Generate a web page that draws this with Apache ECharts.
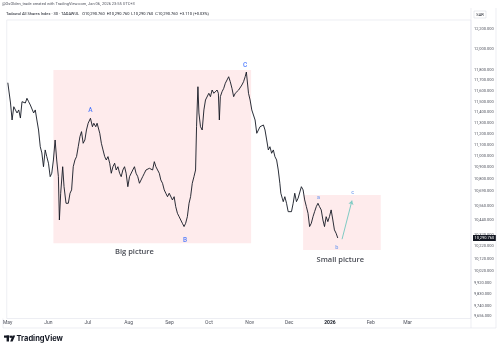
<!DOCTYPE html>
<html>
<head>
<meta charset="utf-8">
<script src="https://cdn.jsdelivr.net/npm/echarts@6/dist/echarts.min.js"></script>
<style>
html,body{margin:0;padding:0;background:#fff;}
#main{width:500px;height:349px;}
</style>
</head>
<body>
<div id="main"></div>
<script>
// Tadawul All Shares Index, 30 min (line close)
const dates = [
  '2025-05-01 02:00','2025-05-03 03:00','2025-05-04 08:00','2025-05-05 15:00','2025-05-06 21:00','2025-05-08 02:00','2025-05-09 09:00','2025-05-10 16:00','2025-05-11 21:00','2025-05-13 04:00',
  '2025-05-14 10:00','2025-05-15 15:00','2025-05-16 22:00','2025-05-18 05:00','2025-05-19 10:00','2025-05-20 17:00','2025-05-21 23:00','2025-05-23 04:00','2025-05-24 11:00','2025-05-25 18:00',
  '2025-05-26 23:00','2025-05-28 05:00','2025-05-29 12:00','2025-05-30 17:00','2025-06-01 00:00','2025-06-02 07:00','2025-06-03 12:00','2025-06-04 18:00','2025-06-06 01:00','2025-06-07 06:00',
  '2025-06-08 13:00','2025-06-09 07:00','2025-06-10 07:00','2025-06-11 19:00','2025-06-12 20:00','2025-06-14 08:00','2025-06-16 02:00','2025-06-17 09:00','2025-06-18 14:00','2025-06-19 20:00',
  '2025-06-21 03:00','2025-06-22 08:00','2025-06-23 15:00','2025-06-24 22:00','2025-06-26 03:00','2025-06-27 09:00','2025-06-28 16:00','2025-06-29 21:00','2025-07-01 04:00','2025-07-02 22:00',
  '2025-07-04 10:00','2025-07-05 11:00','2025-07-06 23:00','2025-07-07 23:00','2025-07-10 00:00','2025-07-11 05:00','2025-07-12 11:00','2025-07-13 18:00','2025-07-14 23:00','2025-07-16 06:00',
  '2025-07-17 13:00','2025-07-18 18:00','2025-07-20 00:00','2025-07-21 07:00','2025-07-22 12:00','2025-07-23 19:00','2025-07-25 02:00','2025-07-26 07:00','2025-07-27 13:00','2025-07-28 20:00',
  '2025-07-30 01:00','2025-07-31 08:00','2025-08-01 15:00','2025-08-04 02:00','2025-08-05 09:00','2025-08-06 14:00','2025-08-07 21:00','2025-08-09 04:00','2025-08-10 09:00','2025-08-11 15:00',
  '2025-08-12 22:00','2025-08-14 03:00','2025-08-16 17:00','2025-08-19 04:00','2025-08-20 11:00','2025-08-21 16:00','2025-08-22 23:00','2025-08-24 06:00','2025-08-25 10:00','2025-08-26 17:00',
  '2025-08-28 00:00','2025-08-29 05:00','2025-08-30 12:00','2025-08-31 19:00','2025-09-01 23:00','2025-09-03 06:00','2025-09-04 13:00','2025-09-05 18:00','2025-09-07 01:00','2025-09-08 08:00',
  '2025-09-09 13:00','2025-09-10 19:00','2025-09-12 02:00','2025-09-13 07:00','2025-09-14 14:00','2025-09-15 21:00','2025-09-17 01:00','2025-09-18 08:00','2025-09-19 15:00','2025-09-20 20:00',
  '2025-09-21 14:00','2025-09-22 03:00','2025-09-22 15:00','2025-09-23 09:00','2025-09-24 14:00','2025-09-25 21:00','2025-09-27 04:00','2025-09-28 09:00','2025-09-29 16:00','2025-09-30 22:00',
  '2025-10-02 03:00','2025-10-03 10:00','2025-10-04 17:00','2025-10-05 22:00','2025-10-07 05:00','2025-10-08 04:00','2025-10-08 22:00','2025-10-09 16:00','2025-10-10 23:00','2025-10-12 06:00',
  '2025-10-13 11:00','2025-10-14 18:00','2025-10-16 00:00','2025-10-17 05:00','2025-10-18 12:00','2025-10-19 19:00','2025-10-21 00:00','2025-10-22 07:00','2025-10-23 14:00','2025-10-24 18:00',
  '2025-10-26 01:00','2025-10-27 08:00','2025-10-28 13:00','2025-10-29 11:00','2025-10-31 02:00','2025-11-01 07:00','2025-11-02 14:00','2025-11-05 02:00','2025-11-06 09:00','2025-11-07 15:00',
  '2025-11-08 20:00','2025-11-10 03:00','2025-11-11 10:00','2025-11-12 15:00','2025-11-13 22:00','2025-11-15 04:00','2025-11-16 09:00','2025-11-17 16:00','2025-11-18 23:00','2025-11-20 04:00',
  '2025-11-21 11:00','2025-11-22 17:00','2025-11-23 22:00','2025-11-24 16:00','2025-11-25 18:00','2025-11-26 12:00','2025-11-27 17:00','2025-11-29 00:00','2025-11-30 06:00','2025-12-01 11:00',
  '2025-12-02 18:00','2025-12-04 01:00','2025-12-05 06:00','2025-12-06 13:00','2025-12-07 19:00','2025-12-09 00:00','2025-12-10 07:00','2025-12-11 14:00','2025-12-12 19:00','2025-12-14 02:00',
  '2025-12-15 08:00','2025-12-16 13:00','2025-12-17 20:00','2025-12-19 03:00','2025-12-20 08:00','2025-12-21 15:00','2025-12-22 21:00','2025-12-24 02:00','2025-12-25 09:00','2025-12-26 16:00',
  '2025-12-27 21:00','2025-12-29 03:00','2025-12-30 10:00','2025-12-31 15:00','2026-01-01 22:00','2026-01-02 16:00','2026-01-03 05:00','2026-01-04 10:00','2026-01-05 16:00','2026-01-06 23:00'
];
const prices = [
  11678,11487,11329,11452,11422,11394,11422,11347,11499,11515,
  11487,11531,11499,11468,11452,11394,11422,11329,11237,11085,
  11029,10906,11056,10996,10937,10818,10848,10966,11146,10966,
  10818,10443,10673,10906,10730,10586,10586,10673,10702,10906,
  10966,10996,11085,11176,11222,11116,11146,11237,11299,11345,
  11267,11299,11267,11299,11207,11116,11056,10996,10966,10996,
  10937,10848,10906,10937,10877,10906,10848,10818,10877,10906,
  10848,10730,10818,10877,10906,10848,10818,10760,10745,10818,
  10848,10877,10892,10877,10951,10906,10877,10848,10789,10760,
  10702,10673,10643,10673,10658,10615,10643,10557,10500,10471,
  10486,10415,10387,10415,10471,10586,10643,10760,10818,10877,
  11267,11468,11640,11394,11267,11237,11422,11515,11531,11578,
  11546,11609,11578,11562,11609,11578,11329,11546,11593,11625,
  11673,11704,11735,11688,11625,11546,11578,11593,11609,11625,
  11656,11688,11735,11780,11578,11515,11422,11329,11207,11237,
  11267,11253,11283,11237,11146,11056,11085,11026,11056,10996,
  10966,10877,10760,10673,10630,10600,10643,10586,10514,10529,
  10514,10586,10673,10600,10630,10615,10730,10702,10615,10557,
  10500,10387,10415,10471,10514,10557,10586,10557,10529,10443,
  10387,10471,10429,10471,10529,10543,10443,10359,10331,10290.76
];
const lastPrice = 10290.76;

const monthTicks = ['2025-05-01','2025-06-01','2025-07-01','2025-08-01','2025-09-01','2025-10-01','2025-11-01','2025-12-01','2026-01-01','2026-02-01','2026-03-01'];
const monthLabels = ['May','Jun','Jul','Aug','Sep','Oct','Nov','Dec','2026','Feb','Mar'];
const priceTicks = [12200,12000,11800,11700,11600,11500,11400,11300,11200,11100,11000,10900,10800,10690,10560,10440,10320,10220,10120,10020,9920,9830,9740,9656];

// wave marks
const waveNames = ['A','B','C','a','b','c'];
const waveDates = ['2025-07-02 22:00','2025-09-12 20:00','2025-10-28 13:00','2025-12-23 08:00','2026-01-06 05:00','2026-01-18 07:00'];
const waveValues = [11421,10275,11848,10635,10214,10678];

// boxes and their captions
const boxNames = ['Big picture','Small picture'];
const boxFrom = [['2025-06-04 18:00',11800],['2025-12-11 14:00',10658]];
const boxTo = [['2025-11-02 01:00',10247],['2026-02-08 15:00',10191]];
const captionDates = ['2025-08-05 09:00','2026-01-08 22:00'];
const captionValues = [10177,10113];

const arrowFrom = ['2026-01-10 05:00',10281];
const arrowTo = ['2026-01-17 18:00',10609];

// the x axis counts time in ms, ticks on the first of each month
const ms = s => echarts.time.parse(s).getTime();
const fmtPrice = v => Number(v).toLocaleString('en-US',{minimumFractionDigits:3,maximumFractionDigits:3});
const tickTimes = monthTicks.map(ms);
const pt = (d, v) => [ms(d), v];

let myChart = echarts.init(document.getElementById('main'));
const gridLine = '#e0e3eb';

const option = {
  animation: false,
  textStyle: {fontFamily: 'Roboto'},
  grid: {
    left: 3, right: 29, top: 20, bottom: 30.5,
    containLabel: false,
    show: true, borderColor: gridLine, borderWidth: 0.6, backgroundColor: '#fff'
  },
  xAxis: {
    type: 'value',
    min: ms('2025-04-30 07:00'),
    max: ms('2026-04-18 06:00'),
    axisLine: {show: false},
    axisTick: {show: false},
    splitLine: {show: false},
    axisLabel: {
      customValues: tickTimes,
      margin: 2,
      fontSize: 5,
      color: '#50535e',
      hideOverlap: false,
      showMinLabel: true,
      formatter: function (value) {
        let best = 0;
        tickTimes.forEach((t, k) => { if (Math.abs(t - value) < Math.abs(tickTimes[best] - value)) best = k; });
        const lab = monthLabels[best];
        return /^\d{4}$/.test(lab) ? '{y|' + lab + '}' : lab;
      },
      rich: {y: {fontSize: 5, fontWeight: 'bold', color: '#131722'}}
    }
  },
  yAxis: {
    type: 'log',
    position: 'right',
    min: 9638,
    max: 12290,
    axisLine: {show: false},
    axisTick: {show: false},
    splitLine: {show: false},
    axisLabel: {
      customValues: priceTicks,
      margin: 3,
      fontSize: 4,
      color: '#50535e',
      formatter: v => fmtPrice(v)
    }
  },
  series: [
    {
      // boxes + arrow
      type: 'line',
      data: [],
      z: 1,
      silent: true,
      markArea: {
        silent: true,
        itemStyle: {color: 'rgba(242,54,69,0.1)'},
        data: boxFrom.map((f, i) => [{coord: pt(f[0], f[1])}, {coord: pt(boxTo[i][0], boxTo[i][1])}])
      },
      markLine: {
        silent: true,
        symbol: ['none', 'arrow'],
        symbolSize: 4,
        label: {show: false},
        lineStyle: {color: '#80cbc4', width: 1, type: 'solid'},
        data: [[{coord: pt(arrowFrom[0], arrowFrom[1])}, {coord: pt(arrowTo[0], arrowTo[1])}]]
      }
    },
    {
      name: 'TASI',
      type: 'line',
      z: 3,
      data: dates.map((d, i) => pt(d, prices[i])),
      showSymbol: false,
      lineStyle: {color: '#131722', width: 0.9},
      markLine: {
        silent: true,
        symbol: 'none',
        lineStyle: {color: 'rgba(0,0,0,0)'},
        label: {
          position: 'end', distance: 2,
          formatter: () => fmtPrice(lastPrice),
          color: '#fff', backgroundColor: '#131722',
          fontSize: 4, padding: [1, 1.5]
        },
        data: [{yAxis: lastPrice}]
      }
    },
    {
      type: 'scatter',
      z: 4,
      symbolSize: 0,
      silent: true,
      data: waveNames.map((n, i) => ({
        value: pt(waveDates[i], waveValues[i]),
        label: {
          show: true, position: 'inside', formatter: n,
          color: n === n.toUpperCase() ? '#2962ff' : '#5b8def',
          fontSize: n === n.toUpperCase() ? 6.5 : 5.5,
          fontWeight: 500
        }
      }))
    },
    {
      type: 'scatter',
      z: 4,
      symbolSize: 0,
      silent: true,
      data: boxNames.map((n, i) => ({
        value: pt(captionDates[i], captionValues[i]),
        label: {
          show: true, position: 'inside', formatter: n,
          color: '#131722', fontSize: 7.5, fontWeight: 600, fontFamily: 'Open Sans'
        }
      }))
    }
  ],
  graphic: [
    {type: 'text', left: 2, top: 2, style: {text: '@OsOlden_trade created with TradingView.com, Jan 06, 2026 23:55 UTC+3', fontSize: 4, fill: '#50535e', fontFamily: 'Roboto'}},
    {type: 'text', left: 6, top: 11.5, style: {text: 'Tadawul All Shares Index · 30 · TADAWUL   O10,290.760  H10,290.760  L10,290.760  C10,290.760  +3.110 (+0.03%)', fontSize: 4, fill: '#131722', fontFamily: 'Roboto'}},
    {type: 'line', shape: {x1: 471, y1: 8, x2: 471, y2: 328}, style: {stroke: gridLine, lineWidth: 0.6}},
    {type: 'line', shape: {x1: 496, y1: 8, x2: 496, y2: 328}, style: {stroke: gridLine, lineWidth: 0.6}},
    {type: 'line', shape: {x1: 3, y1: 318.5, x2: 3, y2: 328}, style: {stroke: gridLine, lineWidth: 0.6}},
    {type: 'line', shape: {x1: 3, y1: 328, x2: 496, y2: 328}, style: {stroke: gridLine, lineWidth: 0.6}},
    {type: 'rect', shape: {x: 474, y: 11, width: 12, height: 7}, style: {fill: '#fff', stroke: '#d1d4dc', lineWidth: 0.5}},
    {type: 'text', x: 480, y: 14.5, style: {text: 'SAR', fontSize: 4, fill: '#131722', align: 'center', verticalAlign: 'middle', fontFamily: 'Roboto'}},
    // TradingView logo
    {type: 'rect', shape: {x: 4, y: 335.5, width: 5.5, height: 2.2}, style: {fill: '#131722'}},
    {type: 'rect', shape: {x: 6.6, y: 335.5, width: 2.4, height: 6}, style: {fill: '#131722'}},
    {type: 'circle', shape: {cx: 11, cy: 336.7, r: 1.2}, style: {fill: '#131722'}},
    {type: 'polygon', shape: {points: [[12.6, 335.5], [15.2, 335.5], [12.6, 341.5], [10.2, 341.5]]}, style: {fill: '#131722'}},
    {type: 'text', x: 16.5, y: 338.6, style: {text: 'TradingView', fontSize: 7.5, fontWeight: 'bold', fill: '#131722', verticalAlign: 'middle', fontFamily: 'Inter'}}
  ]
};

myChart.setOption(option);
window.addEventListener('resize', function () {
  myChart.resize();
});
</script>
</body>
</html>
